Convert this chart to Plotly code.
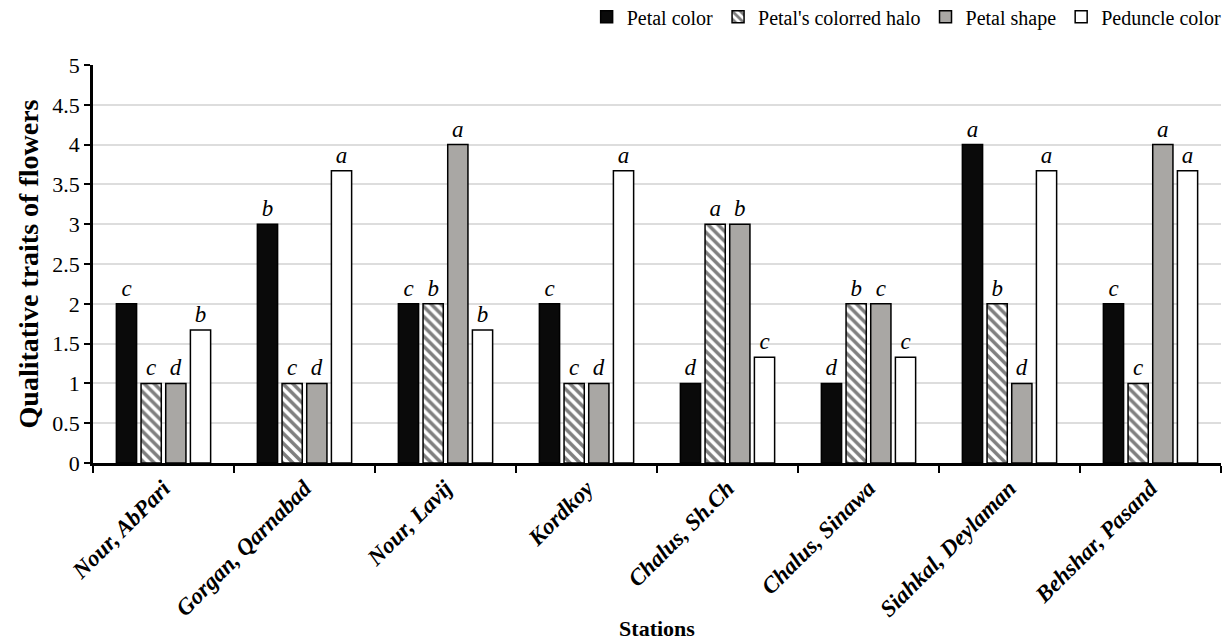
import plotly.graph_objects as go

stations = ["Nour, AbPari", "Gorgan, Qarnabad", "Nour, Lavij", "Kordkoy",
            "Chalus, Sh.Ch", "Chalus, Sinawa", "Siahkal, Deylaman", "Behshar, Pasand"]

petal_color = [2, 3, 2, 2, 1, 1, 4, 2]
petal_halo = [1, 1, 2, 1, 3, 2, 2, 1]
petal_shape = [1, 1, 4, 1, 3, 2, 1, 4]
peduncle_color = [1.67, 3.67, 1.67, 3.67, 1.33, 1.33, 3.67, 3.67]

letters_petal_color = ["c", "b", "c", "c", "d", "d", "a", "c"]
letters_petal_halo = ["c", "c", "b", "c", "a", "b", "b", "c"]
letters_petal_shape = ["d", "d", "a", "d", "b", "c", "d", "a"]
letters_peduncle = ["b", "a", "b", "a", "c", "c", "a", "a"]

series = [
    ("Petal color", petal_color, letters_petal_color, dict(color="#0a0a0a")),
    ("Petal's colorred halo", petal_halo, letters_petal_halo,
     dict(color="white", pattern=dict(shape="\\", fgcolor="black", bgcolor="white", size=7, solidity=0.5))),
    ("Petal shape", petal_shape, letters_petal_shape, dict(color="#a9a7a4")),
    ("Peduncle color", peduncle_color, letters_peduncle, dict(color="white")),
]

SERIF = "Liberation Serif"
fig = go.Figure()
for name, vals, lets, mk in series:
    marker = dict(mk)
    marker["line"] = dict(color="black", width=1.5)
    fig.add_trace(go.Bar(
        name=name, x=stations, y=vals, marker=marker,
        text=lets, textposition="outside",
        textfont=dict(family=SERIF, size=23, style="italic", color="black"),
        cliponaxis=False, textangle=0,
    ))

fig.update_layout(
    width=1231, height=641,
    paper_bgcolor="white", plot_bgcolor="white",
    margin=dict(l=93, r=10, t=65, b=178, autoexpand=False),
    barmode="group", bargap=0.30, bargroupgap=0.18,
    font=dict(family=SERIF, color="black"),
    legend=dict(orientation="h", x=1.005, xanchor="right", y=1.17, yanchor="top",
                font=dict(family=SERIF, size=20), itemwidth=30, traceorder="normal",
                tracegroupgap=0),
    showlegend=True,
)
fig.update_xaxes(
    type="category", tickangle=-45, tickson="boundaries",
    ticks="outside", ticklen=7, tickwidth=2, tickcolor="black",
    showline=True, linecolor="black", linewidth=2.5,
    tickfont=dict(family=SERIF, size=23, style="italic", weight="bold"),
    title=dict(text="Stations", font=dict(family=SERIF, size=22, weight="bold"), standoff=4),
    showgrid=False, automargin=False,
)
fig.update_yaxes(
    range=[0, 5], dtick=0.5, tick0=0,
    ticks="outside", ticklen=6, tickwidth=2, tickcolor="black",
    showline=True, linecolor="black", linewidth=2.5,
    tickfont=dict(family=SERIF, size=22),
    title=dict(text="Qualitative traits of flowers", font=dict(family=SERIF, size=28, weight="bold"), standoff=6),
    showgrid=True, gridcolor="#dddddd", gridwidth=1.5, zeroline=False, automargin=False,
)
fig.write_html("out.html", config={"displayModeBar": False},
               post_script="document.body.style.margin='0';document.body.style.overflow='hidden';")
